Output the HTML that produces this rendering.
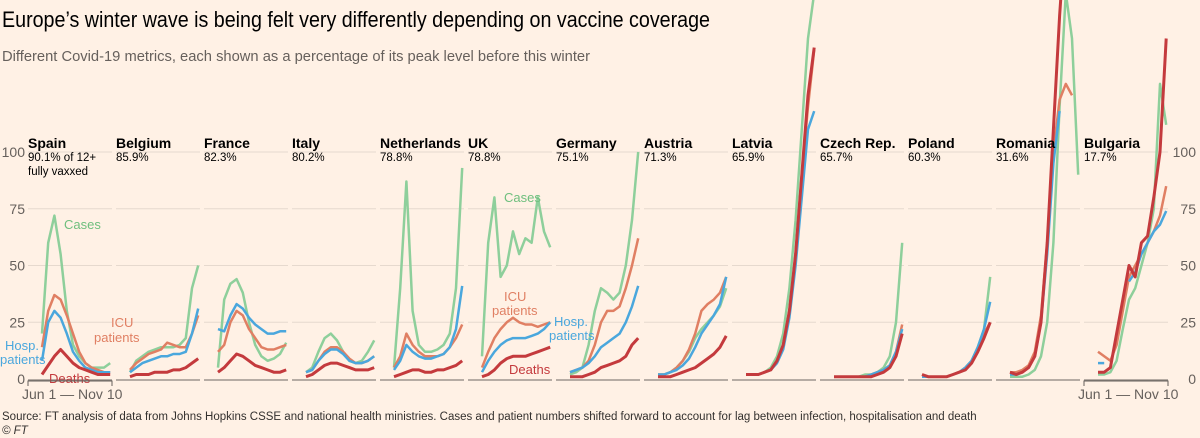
<!DOCTYPE html>
<html><head><meta charset="utf-8"><style>
body{margin:0;background:#fff1e5;font-family:"Liberation Sans",sans-serif;}
svg{display:block}
</style></head><body>
<svg id="c" width="1200" height="438">
<text x="2" y="27" font-size="22" fill="#000" textLength="708" lengthAdjust="spacingAndGlyphs">Europe’s winter wave is being felt very differently depending on vaccine coverage</text>
<text x="2" y="61" font-size="15" fill="#66605c" textLength="588" lengthAdjust="spacingAndGlyphs">Different Covid-19 metrics, each shown as a percentage of its peak level before this winter</text>
<text x="2" y="420" font-size="11.5" fill="#33302e">Source: FT analysis of data from Johns Hopkins CSSE and national health ministries. Cases and patient numbers shifted forward to account for lag between infection, hospitalisation and death</text>
<text x="2" y="434" font-size="11.5" font-style="italic" fill="#33302e">© FT</text>
<g id="plot"></g>
</svg>
<script>
const countries=["Spain","Belgium","France","Italy","Netherlands","UK","Germany","Austria","Latvia","Czech Rep.","Poland","Romania","Bulgaria"];
const vaxxed=["90.1% of 12+","85.9%","82.3%","80.2%","78.8%","78.8%","75.1%","71.3%","65.9%","65.7%","60.3%","31.6%","17.7%"];
const yTicks=[0,25,50,75,100];
const cases=[[20,60,72,55,30,15,10,7,5,5,5,7],[3,8,10,12,13,14,14,14,15,18,40,50],[5,35,42,44,38,25,15,10,8,9,11,16],[3,5,12,18,20,17,12,8,7,8,12,17],[5,40,87,30,15,12,12,13,15,20,40,93],[10,60,80,45,50,65,55,62,60,80,65,58],[2,3,5,15,30,40,38,35,38,50,70,100],[2,2,3,5,8,12,18,22,25,28,32,40],[2,2,2,3,5,10,20,40,70,110,150,170],[1,1,1,1,1,2,2,3,5,10,25,60],[1,1,1,1,1,2,3,5,8,14,22,45],[1,1,1,2,4,10,25,60,120,170,150,90],[2,2,3,8,22,35,40,50,60,75,130,112]];
const icu=[[14,30,37,35,28,20,12,7,5,4,3,3],[4,7,9,11,12,13,16,15,14,14,20,28],[12,15,25,30,28,22,18,14,13,13,14,15],[3,4,8,12,14,14,12,9,7,7,8,10],[5,10,20,15,12,10,10,10,11,14,18,24],[5,12,18,22,25,27,25,24,24,23,24,25],[3,4,5,8,15,25,30,30,32,40,50,62],[2,2,3,5,8,13,20,30,33,35,38,45],[2,2,2,3,4,8,15,30,55,90,120,145],[1,1,1,1,1,1,2,3,4,6,12,24],[1,1,1,1,1,2,3,5,8,13,20,25],[3,3,4,6,12,28,60,100,123,130,125,null],[12,10,8,15,30,45,50,55,60,65,72,85]];
const hosp=[[8,25,30,27,20,12,8,5,4,3,3,3],[3,5,7,8,9,10,10,11,11,12,20,31],[22,21,28,33,31,27,24,22,20,20,21,21],[3,4,8,11,13,13,11,8,7,7,8,10],[4,8,15,12,10,9,9,10,11,14,22,41],[3,8,12,15,17,18,18,18,19,20,22,25],[3,4,5,7,10,14,16,18,20,25,32,41],[2,2,3,4,6,9,14,20,24,28,33,45],[2,2,2,3,4,7,13,27,50,80,110,118],[1,1,1,1,1,1,2,3,4,6,12,22],[1,1,1,1,1,2,3,5,8,14,22,34],[2,2,3,5,10,25,55,95,118,null,null,null],[7,7,null,null,null,43,47,55,60,65,68,74]];
const deaths=[[2,6,10,13,10,7,5,4,3,2,2,2],[1,2,2,2,3,3,3,4,4,5,7,9],[3,5,8,11,10,8,6,5,4,3,3,4],[1,2,4,6,7,7,6,5,4,4,4,5],[1,2,3,4,4,3,3,4,4,5,6,8],[1,2,4,7,9,10,10,10,11,12,13,14],[1,1,1,2,3,5,6,7,8,10,15,18],[1,1,1,2,3,4,5,7,9,11,14,19],[2,2,2,3,4,8,15,30,55,90,125,146],[1,1,1,1,1,1,1,2,3,5,10,20],[2,1,1,1,1,2,3,4,7,12,18,25],[3,2,3,5,10,25,60,110,160,200,220,240],[3,3,5,20,35,50,45,60,63,80,100,150]];
const series=[{d:cases,c:"#8ecf9b",n:"cases"},{d:icu,c:"#e07f63",n:"icu"},{d:hosp,c:"#4aa7dd",n:"hosp"},{d:deaths,c:"#c43a3d",n:"deaths"}];
const NS="http://www.w3.org/2000/svg",g=document.getElementById("plot");
const y0=379,y100=152;
const yS=v=>y0-(v/100)*(y0-y100);
const panelX=i=>28+88*i;
const xS=(i,k)=>panelX(i)+14+k*6.2;
function mk(t,a,p){const e=document.createElementNS(NS,t);for(const k in a)e.setAttribute(k,a[k]);(p||g).appendChild(e);return e;}
yTicks.forEach(t=>{if(t===0)return;
 countries.forEach((c,i)=>{const l=mk("line",{x1:panelX(i),x2:panelX(i)+84,y1:yS(t),y2:yS(t),stroke:"#e6d9ce","stroke-width":1});
 
 });
});
yTicks.forEach(t=>{
 const a=mk("text",{x:25,y:yS(t)+5,"font-size":14,fill:"#66605c","text-anchor":"end"});a.textContent=t;
 
 
 const b=mk("text",{x:1196,y:yS(t)+5,"font-size":14,fill:"#66605c","text-anchor":"end"});b.textContent=t;
 
 
});
const clip=mk("clipPath",{id:"cl"});mk("rect",{x:0,y:0,width:1200,height:400},clip);
countries.forEach((c,i)=>{
 const x0=panelX(i);
 const bl=mk("line",{x1:x0,x2:x0+84,y1:y0+1,y2:y0+1,stroke:"#8a837e","stroke-width":1.3});
 
 
 series.forEach(s=>{
  const v=s.d[i];let seg=[];const segs=[];
  v.forEach((val,k)=>{if(val==null){if(seg.length)segs.push(seg);seg=[];}else seg.push(xS(i,k).toFixed(1)+","+yS(val).toFixed(1));});
  if(seg.length)segs.push(seg);
  segs.forEach(sg=>{const pl=mk("polyline",{points:sg.join(" "),fill:"none",stroke:s.c,"stroke-width":s.n==="deaths"?3:2.5,"stroke-linejoin":"round","clip-path":"url(#cl)"});
   
   });
 });
 const t=mk("text",{x:x0,y:148,"font-size":14,"font-weight":"bold",fill:"#000"});t.textContent=c;
 
 
 const p=mk("text",{x:x0,y:161,"font-size":11.5,fill:"#000"});p.textContent=vaxxed[i];
 
 
});
const vt=mk("text",{x:28,y:175,"font-size":11.5,fill:"#000"});vt.textContent="fully vaxxed";


[["Cases",64,229,"#6fbf7e"],["ICU",111,327,"#e07f63"],["patients",94,342,"#e07f63"],["Hosp.",5,350,"#4aa7dd"],["patients",0,364,"#4aa7dd"],["Deaths",49,383,"#c43a3d"],
 ["Cases",504,202,"#6fbf7e"],["ICU",504,301,"#e07f63"],["patients",492,315,"#e07f63"],["Hosp.",554,326,"#4aa7dd"],["patients",549,340,"#4aa7dd"],["Deaths",509,374,"#c43a3d"]].forEach(a=>{
 const t=mk("text",{x:a[1],y:a[2],"font-size":13,fill:a[3]});t.textContent=a[0];
 
 });
[28,1084].forEach(x=>{
 const l=mk("path",{d:`M${x} 386V381H${x+84}V386`,fill:"none",stroke:"#66605c","stroke-width":1});
 
 
 const t=mk("text",{x:x-6,y:399,"font-size":14,fill:"#66605c"});t.textContent="Jun 1 — Nov 10";
 
 
});
</script>
</body></html>
